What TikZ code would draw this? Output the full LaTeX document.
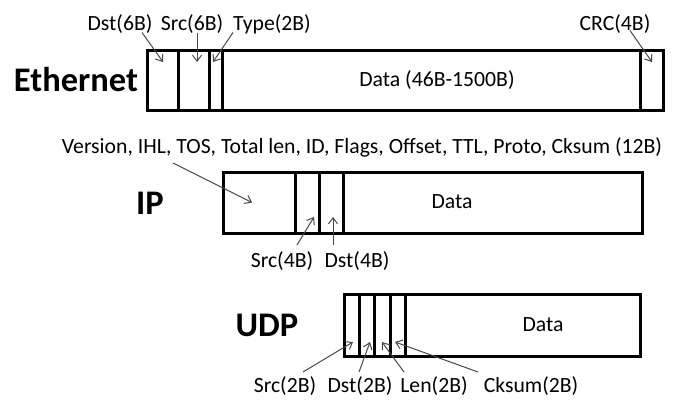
\documentclass[tikz,border=0pt]{standalone}
\usepackage{fontspec}
\setmainfont{Carlito}
\usetikzlibrary{calc,arrows.meta}
\begin{document}
\begin{tikzpicture}[x=1pt,y=-1pt,
  field/.style={draw,line width=3pt,inner sep=0pt,outer sep=0pt,anchor=north west,minimum height=#1},
  lbl/.style={font=\fontsize{21.7}{25}\selectfont,inner sep=0pt,anchor=base},
  big/.style={font=\fontsize{34.5}{40}\selectfont\bfseries,inner sep=0pt,anchor=base},
  arr/.style={draw=black!72,line width=1pt,-{Straight Barb[length=6pt,width=9pt]}}]
\useasboundingbox (0,0) rectangle (679,399);
% Ethernet
\node[field=60pt,minimum width=31pt] (edst) at (147,50) {};
\node[field=60pt,minimum width=31pt] (esrc) at (178,50) {};
\node[field=60pt,minimum width=13pt] (etype) at (209,50) {};
\node[field=60pt,minimum width=418pt] (edata) at (222,50) {};
\node[field=60pt,minimum width=23pt] (ecrc) at (640,50) {};
\node[big] (eth) at (76,91) {Ethernet};
\node[lbl] (edatal) at (437,86) {Data (46B-1500B)};
\node[lbl] (edstl) at (120,30.5) {Dst(6B)};
\node[lbl] (esrcl) at (192,30.5) {Src(6B)};
\node[lbl] (etypel) at (272,30.5) {Type(2B)};
\node[lbl] (ecrcl) at (615,30.5) {CRC(4B)};
\draw[arr] ($(edstl.base)+(22,2)$) -- ($(edst.center)+(0.5,-18)$);
\draw[arr] ($(esrcl.base)+(5,2)$) -- ($(esrc.center)+(3.5,-18)$);
\draw[arr] ($(etypel.base)+(-39,2)$) -- ($(etype.center)+(-2.5,-18)$);
\draw[arr] ($(ecrcl.base)+(15,0)$) -- ($(ecrc.center)+(0.5,-18)$);
% IP
\node[field=61pt,minimum width=72pt] (ihdr) at (223,172) {};
\node[field=61pt,minimum width=24pt] (isrc) at (295,172) {};
\node[field=61pt,minimum width=24pt] (idst) at (319,172) {};
\node[field=61pt,minimum width=299pt] (idata) at (343,172) {};
\node[big] (ip) at (150,214) {IP};
\node[lbl] (idatal) at (452,208) {Data};
\node[lbl] (ihdrl) at (362,153) {Version, IHL, TOS, Total len, ID, Flags, Offset, TTL, Proto, Cksum (12B)};
\node[lbl] (isrcl) at (282,267) {Src(4B)};
\node[lbl] (idstl) at (357,267) {Dst(4B)};
\draw[arr] ($(ihdrl.base)+(-189,10)$) -- ($(ihdr.center)+(-7,0)$);
\draw[arr] ($(isrcl.base)+(15,-22)$) -- ($(isrc.center)+(7,14.5)$);
\draw[arr] ($(idstl.base)+(-24,-22)$) -- ($(idst.center)+(2,14.5)$);
% UDP
\node[field=62pt,minimum width=15pt] (usrc) at (344,294) {};
\node[field=62pt,minimum width=15pt] (udst) at (359,294) {};
\node[field=62pt,minimum width=16pt] (ulen) at (374,294) {};
\node[field=62pt,minimum width=15pt] (ucks) at (390,294) {};
\node[field=62pt,minimum width=235pt] (udata) at (405,294) {};
\node[big] (udp) at (267,336) {UDP};
\node[lbl] (udatal) at (543,331) {Data};
\node[lbl] (usrcl) at (285,392) {Src(2B)};
\node[lbl] (udstl) at (360,392) {Dst(2B)};
\node[lbl] (ulenl) at (434,392) {Len(2B)};
\node[lbl] (uacksl) at (531,392) {Cksum(2B)};
\draw[arr] ($(usrcl.base)+(18,-20)$) -- ($(usrc.center)+(1.5,17)$);
\draw[arr] ($(udstl.base)+(-1,-20)$) -- ($(udst.center)+(3.5,17)$);
\draw[arr] ($(ulenl.base)+(-30,-20)$) -- ($(ulen.center)+(0,17)$);
\draw[arr] ($(uacksl.base)+(-53,-20)$) -- ($(ucks.center)+(-2.5,17)$);
\end{tikzpicture}
\end{document}
